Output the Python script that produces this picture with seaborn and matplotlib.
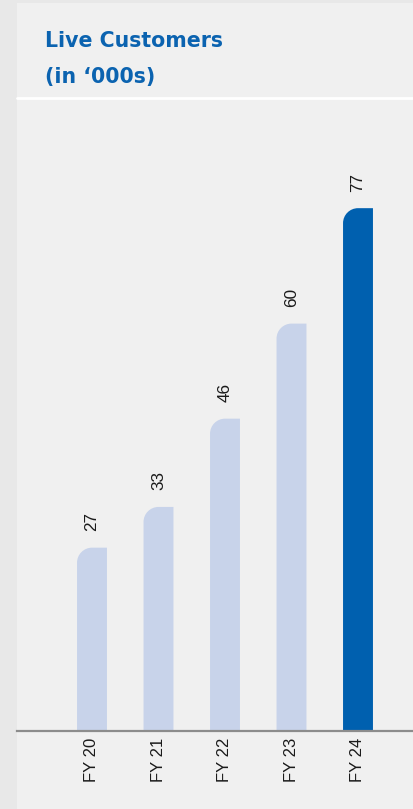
import matplotlib
matplotlib.use("Agg")
import matplotlib.pyplot as plt
import seaborn as sns
import numpy as np
import pandas as pd
from matplotlib.path import Path
from matplotlib.patches import PathPatch, Rectangle
from matplotlib.lines import Line2D

categories = ["FY 20", "FY 21", "FY 22", "FY 23", "FY 24"]
values = [27, 33, 46, 60, 77]
bar_colors = ["#c8d3ea", "#c8d3ea", "#c8d3ea", "#c8d3ea", "#0060af"]
title_lines = ["Live Customers", "(in \u2018000s)"]

sns.set_style("white")
plt.rcParams["font.family"] = ["Liberation Sans", "DejaVu Sans"]

W, H = 414, 809
fig = plt.figure(figsize=(W / 100, H / 100), dpi=100)
fig.patch.set_facecolor("#e8e8e8")
# lighter panel
fig.add_artist(Rectangle((17 / W, 0), 1 - 17 / W, 1 - 3 / H, transform=fig.transFigure,
                         facecolor="#f0f0f0", edgecolor="none", zorder=0))

# axes geometry in pixels
ax_left, ax_right = 17, 414
ax_top, ax_bottom = 98, 731
ax = fig.add_axes([ax_left / W, 1 - ax_bottom / H, (ax_right - ax_left) / W, (ax_bottom - ax_top) / H])
ax.set_facecolor("none")

df = pd.DataFrame({"cat": categories, "val": values})
sns.barplot(data=df, x="cat", y="val", hue="cat", palette=bar_colors, legend=False,
            width=0.45, ax=ax, saturation=1)

step = 66.5
c0 = 92
ax.set_xlim(-(c0 - ax_left) / step, 4 + (ax_right - (c0 + 4 * step)) / step)
px_per_unit = 6.79
ax.set_ylim(0, (ax_bottom - ax_top) / px_per_unit)

# convert bars to rounded top-left shape
r_px = 15
ppx = (ax_right - ax_left) / (ax.get_xlim()[1] - ax.get_xlim()[0])
rx = r_px / ppx
ry = r_px / px_per_unit
k = 0.5523
for p in list(ax.patches):
    x0, w, h = p.get_x(), p.get_width(), p.get_height()
    fc = p.get_facecolor()
    p.set_visible(False)
    verts = [
        (x0, 0), (x0, h - ry),
        (x0, h - ry + k * ry), (x0 + rx - k * rx, h), (x0 + rx, h),
        (x0 + w, h), (x0 + w, 0), (x0, 0)
    ]
    codes = [Path.MOVETO, Path.LINETO, Path.CURVE4, Path.CURVE4, Path.CURVE4,
             Path.LINETO, Path.LINETO, Path.CLOSEPOLY]
    ax.add_patch(PathPatch(Path(verts, codes), facecolor=fc, edgecolor="none", zorder=2))
    ax.annotate(f"{int(round(h))}", (x0 + w / 2, h), xytext=(0, 12), textcoords="offset points",
                rotation=90, ha="center", va="bottom", fontsize=12.3, color="#1a1a1a")

for s in ["top", "left", "right"]:
    ax.spines[s].set_visible(False)
ax.spines["bottom"].set_color("#8c8c8c")
ax.spines["bottom"].set_linewidth(1.6)
ax.spines["bottom"].set_zorder(3)
ax.set_yticks([])
ax.set_xlabel("")
ax.set_ylabel("")
ax.tick_params(axis="x", length=0, pad=5, labelsize=12, labelcolor="#1a1a1a")
for lbl in ax.get_xticklabels():
    lbl.set_rotation(90)

# white separator line under title
fig.add_artist(Line2D([17 / W, 1], [1 - 98 / H, 1 - 98 / H], color="white", lw=2,
                      transform=fig.transFigure))

# title
tcol = "#0b63b0"
fig.text(45 / W, 1 - 47 / H, title_lines[0], fontsize=14.8, fontweight="bold", color=tcol,
         va="baseline", ha="left", family=["DejaVu Sans"])
fig.text(45 / W, 1 - 83 / H, title_lines[1], fontsize=14.8, fontweight="bold", color=tcol,
         va="baseline", ha="left", family=["DejaVu Sans"])

fig.savefig("out.png", dpi=100, facecolor=fig.get_facecolor())
